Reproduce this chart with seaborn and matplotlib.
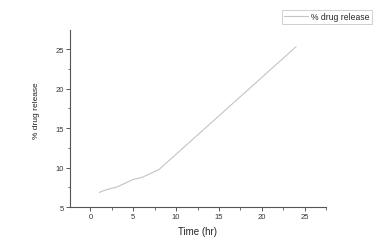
import matplotlib
matplotlib.use("Agg")
import matplotlib.pyplot as plt
import seaborn as sns
import pandas as pd
from matplotlib.ticker import MultipleLocator

time_hr = [1, 2, 3, 5, 6, 8, 24]
drug_release = [6.85, 7.25, 7.5, 8.5, 8.75, 9.75, 25.3]
series_name = "% drug release"

df = pd.DataFrame({"Time (hr)": time_hr, series_name: drug_release})

sns.set_style("ticks")
plt.rcParams['font.family'] = ['Liberation Sans', 'DejaVu Sans']

fig = plt.figure(figsize=(3.8, 2.51), dpi=100)
ax = fig.add_axes([0.184, 0.171, 0.674, 0.705])
sns.lineplot(data=df, x="Time (hr)", y=series_name, ax=ax, color="#c4c4c4",
             linewidth=0.8, label=series_name, legend=False)

ax.xaxis.set_major_locator(MultipleLocator(5))
ax.xaxis.set_minor_locator(MultipleLocator(2.5))
ax.yaxis.set_major_locator(MultipleLocator(5))
ax.yaxis.set_minor_locator(MultipleLocator(2.5))
ax.set_xticks([0, 5, 10, 15, 20, 25])
ax.set_xlim(-2.4, 27.5)
ax.set_ylim(5, 27.4)

for s in ["top", "right"]:
    ax.spines[s].set_visible(False)
for s in ["left", "bottom"]:
    ax.spines[s].set_color("#555555")
    ax.spines[s].set_linewidth(0.8)
ax.tick_params(which="major", length=3, width=0.7, color="#555555",
               labelsize=5.5, labelcolor="#333333", pad=1.5)
ax.tick_params(which="minor", length=1.8, width=0.6, color="#555555")
ax.set_xlabel("Time (hr)", fontsize=7, color="#222222", labelpad=4)
ax.set_ylabel("% drug release", fontsize=6, color="#222222")
ax.yaxis.set_label_coords(-0.115, 0.55)

handles, labels = ax.get_legend_handles_labels()
leg = fig.legend(handles, labels, loc="upper right", bbox_to_anchor=(0.979, 0.955),
                 fontsize=6.2, frameon=True, fancybox=False, handlelength=2.8,
                 borderpad=0.25, handletextpad=0.4, borderaxespad=0)
leg.get_frame().set_edgecolor("#bbbbbb")
leg.get_frame().set_linewidth(0.6)

fig.savefig("out.png", dpi=100)
